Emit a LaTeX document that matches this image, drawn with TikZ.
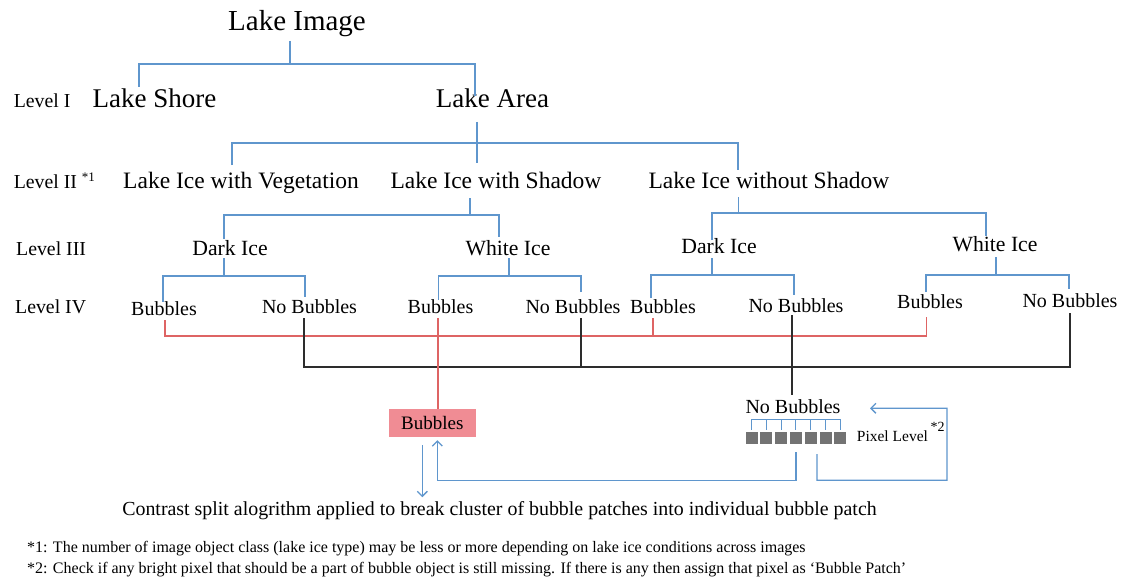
\documentclass[tikz,border=0pt]{standalone}
\usepackage{fontspec}
\setmainfont{Liberation Serif}
\usetikzlibrary{arrows.meta}
\definecolor{treeblue}{RGB}{95,150,205}
\definecolor{linered}{RGB}{222,100,100}
\definecolor{lineblack}{RGB}{45,45,45}
\definecolor{boxpink}{RGB}{240,140,148}
\definecolor{pixgray}{RGB}{115,115,115}
\newcommand{\fs}[1]{\fontsize{#1}{#1}\selectfont}
\begin{document}
\begin{tikzpicture}[x=1pt,y=-1pt,
  txt/.style={anchor=base, inner sep=0pt, text=black},
  lvl/.style={anchor=base west, inner sep=0pt, font=\fs{19.8}},
  tA/.style={txt, font=\fs{29}},
  tB/.style={txt, font=\fs{27}},
  tC/.style={txt, font=\fs{23.5}},
  tD/.style={txt, font=\fs{21.7}},
  tE/.style={txt, font=\fs{20}},
  tree/.style={draw=treeblue, line width=1.3pt},
  redline/.style={draw=linered, line width=1.2pt},
  blkline/.style={draw=lineblack, line width=1.3pt},
  arr/.style={-{Straight Barb[length=5pt,width=10pt]}},
  pix/.style={fill=pixgray, minimum width=12pt, minimum height=11.5pt, inner sep=0pt},
  bubbox/.style={fill=boxpink, minimum width=87pt, minimum height=28pt, inner sep=0pt, font=\fs{19}}
]
\useasboundingbox[fill=white] (0,0) rectangle (1121,583);

% level labels
\node[lvl] (L1) at (13.6,108) {Level I};
\node[lvl] (L2) at (13.6,188) {Level II\ \raisebox{7pt}{\fs{13}*1}};
\node[lvl] (L3) at (16,255) {Level III};
\node[lvl] (L4) at (15,313) {Level IV};

% tree text
\node[tA] (img) at (297,31) {Lake Image};
\node[tB] (shore) at (154.5,108) {Lake Shore};
\node[tB] (area) at (492.5,108) {Lake Area};
\node[tC] (veg) at (241,188) {Lake Ice with Vegetation};
\node[tC] (shadow) at (496,188) {Lake Ice with Shadow};
\node[tC] (noshadow) at (769,188) {Lake Ice without Shadow};
\node[tD] (dark1) at (230,255) {Dark Ice};
\node[tD] (white1) at (508,255) {White Ice};
\node[tD] (dark2) at (719,253) {Dark Ice};
\node[tD] (white2) at (995,251) {White Ice};
\node[tE] (b1) at (164,315) {Bubbles};
\node[tE] (nb1) at (309.5,313) {No Bubbles};
\node[tE] (b2) at (440.5,313) {Bubbles};
\node[tE] (nb2) at (573,313) {No Bubbles};
\node[tE] (b3) at (663,313) {Bubbles};
\node[tE] (nb3) at (796,312) {No Bubbles};
\node[tE] (b4) at (930,308) {Bubbles};
\node[tE] (nb4) at (1070,307) {No Bubbles};

% blue tree connectors
\draw[tree] (290,41) -- (290,64);
\draw[tree] (139,87) |- (475,64) -- (475,96);
\draw[tree] (477,122) -- (477,163);
\draw[tree] (232,165) |- (738,143) -- (738,170);
\draw[tree] (470,198) -- (470,215);
\draw[tree] (224,239) |- (499,215) -- (499,237);
\draw[tree] (738.6,197) -- (738.6,213);
\draw[tree] (712,240) |- (986,213) -- (986,236);
\draw[tree] (224,258) -- (224,276);
\draw[tree] (163,302) |- (305,276) -- (305,297);
\draw[tree] (509,258) -- (509,276);
\draw[tree] (438.6,300) |- (581,276) -- (581,292);
\draw[tree] (712,258) -- (712,275);
\draw[tree] (651,298) |- (794,275) -- (794,295);
\draw[tree] (996,257) -- (996,275);
\draw[tree] (926,292) |- (1069,275) -- (1069,289);

% red connectors (bubbles)
\draw[redline] (165,320) |- (926.7,336) -- (926.7,317);
\draw[redline] (653,318) -- (653,336);

% black connectors (no bubbles)
\draw[blkline] (304,318) |- (1070,367) -- (1070,313);
\draw[blkline] (581,318) -- (581,367);
\draw[blkline] (792,315) -- (792,395);

% bottom part
\node[bubbox] (bbox) at (432.3,423) {Bubbles};
\draw[redline] (438,318) -- ([xshift=5.7pt]bbox.north);
\node[tE] (nbp) at (793,413) {No Bubbles};
\foreach \i in {0,...,6} {
  \node[pix] (p\i) at ({751.5+14.8*\i},437.75) {};
}
\draw[tree, line width=1pt] ([yshift=2pt]p0.north) |- ([yshift=12pt]p6.north) -- ([yshift=2pt]p6.north);
\foreach \i in {1,...,5} {
  \draw[tree, line width=1pt] ([yshift=2pt]p\i.north) -- ([yshift=12pt]p\i.north);
}
\node[anchor=base west, inner sep=0pt, font=\fs{15.5}] (pixlvl) at (856.7,441.7) {Pixel Level\,\raisebox{10pt}{\fs{14}*2}};

\draw[tree, arr] ([yshift=-8.5pt]p3.south) -- ++(0,28) -| ([xshift=5pt,yshift=-3pt]bbox.south);
\draw[tree, arr] ([yshift=-10.5pt]p4.south east) -- ++(0,26) -| ++(130,-72) -- (870,408.3);
\draw[tree, arr] ([xshift=-10pt,yshift=-8pt]bbox.south) -- ++(0,52);

\node[txt, font=\fs{19.9}] (contrast) at (499.5,515) {Contrast split alogrithm applied to break cluster of bubble patches into individual bubble patch};

\node[anchor=base west, inner sep=0pt, font=\fs{16}] (fn1) at (27,552) {*1: The number of image object class (lake ice type) may be less or more depending on lake ice conditions across images};
\node[anchor=base west, inner sep=0pt, font=\fs{16}] (fn2) at (27,573) {*2: Check if any bright pixel that should be a part of bubble object is still missing. If there is any then assign that pixel as ‘Bubble Patch’};
\end{tikzpicture}
\end{document}
